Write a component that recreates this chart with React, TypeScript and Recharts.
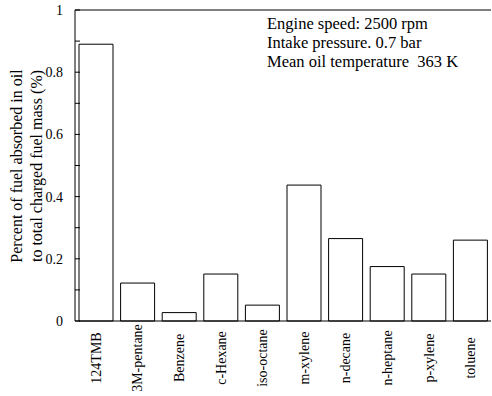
import { BarChart, Bar, XAxis, YAxis, ReferenceLine } from 'recharts';

const fuels = [
  '124TMB',
  '3M-pentane',
  'Benzene',
  'c-Hexane',
  'iso-octane',
  'm-xylene',
  'n-decane',
  'n-heptane',
  'p-xylene',
  'toluene',
];
const absorbed = [0.89, 0.122, 0.027, 0.151, 0.051, 0.437, 0.265, 0.175, 0.151, 0.26];
const yTicks = [0, 0.1, 0.2, 0.3, 0.4, 0.5, 0.6, 0.7, 0.8, 0.9, 1];
const yLabels: Record<string, string> = { '0': '0', '0.2': '0.2', '0.4': '0.4', '0.6': '0.6', '0.8': '0.8', '1': '1' };
const notes = ['Engine speed: 2500 rpm', 'Intake pressure. 0.7 bar', 'Mean oil temperature\u00a0 363 K'];

const data = fuels.map((name, i) => ({ name, value: absorbed[i] }));

const FONT = '"Liberation Serif", "Times New Roman", serif';

// left axis: inward tick + label
function LeftTick({ x, y, payload }: any) {
  const label = yLabels[String(payload.value)];
  return (
    <g>
      <line x1={x} x2={x + 5} y1={y} y2={y} stroke='#000' />
      {label && (
        <text x={x - 12} y={y} dy='0.35em' textAnchor='end' fontSize={14} fontFamily={FONT} fill='#000'>
          {label}
        </text>
      )}
    </g>
  );
}

// right frame: inward ticks only
function RightTick({ x, y }: any) {
  return <line x1={x} x2={x - 5} y1={y} y2={y} stroke='#000' />;
}

function FuelTick({ x, y, payload }: any) {
  return (
    <text
      transform={`translate(${x},${y + 37}) rotate(-90)`}
      dy='0.35em'
      textAnchor='middle'
      fontSize={14}
      fontFamily={FONT}
      fill='#000'
    >
      {payload.value}
    </text>
  );
}

export default function App() {
  return (
    <div style={{ position: 'absolute', left: 0, top: 0, width: 492, height: 396, background: '#fff' }}>
      <BarChart
        width={492}
        height={396}
        data={data}
        margin={{ top: 10, right: 1, left: 0, bottom: 0 }}
        barSize={34}
      >
        <XAxis
          dataKey='name'
          height={75}
          interval={0}
          tickLine={false}
          tickSize={0}
          tickMargin={0}
          axisLine={{ stroke: '#000' }}
          tick={<FuelTick />}
        />
        <YAxis
          yAxisId='l'
          width={75}
          domain={[0, 1]}
          ticks={yTicks}
          interval={0}
          tickLine={false}
          tickSize={0}
          tickMargin={0}
          axisLine={{ stroke: '#000' }}
          tick={<LeftTick />}
        />
        <YAxis
          yAxisId='r'
          orientation='right'
          width={0}
          domain={[0, 1]}
          ticks={yTicks}
          interval={0}
          tickLine={false}
          tickSize={0}
          tickMargin={0}
          axisLine={{ stroke: '#000' }}
          tick={<RightTick />}
        />
        <ReferenceLine yAxisId='l' y={1} stroke='#000' />
        <Bar
          yAxisId='l'
          dataKey='value'
          fill='#fff'
          stroke='#000'
          strokeWidth={1}
          isAnimationActive={false}
        />
      </BarChart>
      <svg
        width={492}
        height={396}
        style={{ position: 'absolute', left: 0, top: 0, pointerEvents: 'none' }}
      >
        <text
          transform='translate(22,166) rotate(-90)'
          textAnchor='middle'
          fontSize={16}
          fontFamily={FONT}
          fill='#000'
        >
          Percent of fuel absorbed in oil
        </text>
        <text
          transform='translate(42,166) rotate(-90)'
          textAnchor='middle'
          fontSize={16}
          fontFamily={FONT}
          fill='#000'
        >
          to total charged fuel mass (%)
        </text>
        {notes.map((t, i) => (
          <text key={t} x={267} y={29 + i * 19} fontSize={16.5} fontFamily={FONT} fill='#000'>
            {t}
          </text>
        ))}
      </svg>
    </div>
  );
}
